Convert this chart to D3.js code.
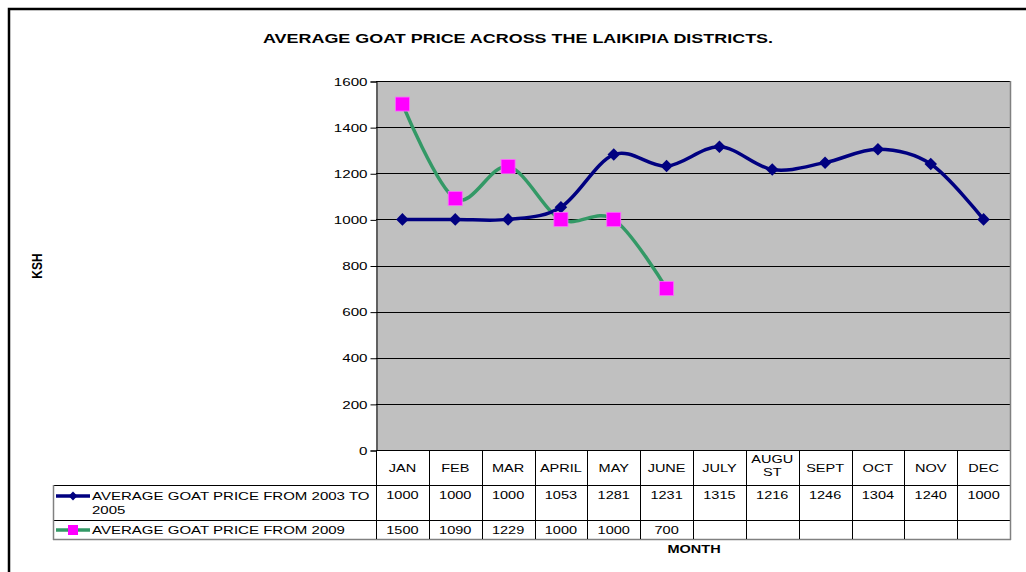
<!DOCTYPE html>
<html>
<head>
<meta charset="utf-8">
<script src="https://cdn.jsdelivr.net/npm/d3@7"></script>
<style>
  body { margin: 0; background: #fff; }
  text { font-family: "Liberation Sans", Arial, sans-serif; }
</style>
</head>
<body>
<div id="chart"></div>
<script>
// Chart data
const months = ["JAN", "FEB", "MAR", "APRIL", "MAY", "JUNE", "JULY", "AUGUST", "SEPT", "OCT", "NOV", "DEC"];
const monthLabels = [["JAN"], ["FEB"], ["MAR"], ["APRIL"], ["MAY"], ["JUNE"], ["JULY"], ["AUGU", "ST"], ["SEPT"], ["OCT"], ["NOV"], ["DEC"]];
const price2003to2005 = [1000, 1000, 1000, 1053, 1281, 1231, 1315, 1216, 1246, 1304, 1240, 1000];
const price2009 = [1500, 1090, 1229, 1000, 1000, 700];
const seriesNames = [["AVERAGE GOAT PRICE FROM 2003 TO", "2005"], ["AVERAGE GOAT PRICE FROM 2009"]];
const yTicks = [0, 200, 400, 600, 800, 1000, 1200, 1400, 1600];

const W = 1026, H = 572;
const plot = { left: 376, right: 1010, top: 81, bottom: 450 };
// the original picture is stretched sideways, so text is too
const SX = 1.32;

const svg = d3.select("#chart").append("svg")
  .attr("width", W)
  .attr("height", H);

// place a text at (x, y) with the sideways stretch
function placeText(sel, x, y) {
  return sel.attr("x", 0).attr("y", 0)
    .attr("transform", `translate(${x},${y}) scale(${SX},1)`);
}

// outer frame (runs off the right and bottom edges)
svg.append("path")
  .attr("d", `M9,${H + 5} V9 H${W + 5}`)
  .attr("fill", "none")
  .attr("stroke", "#000")
  .attr("stroke-width", 2.5);

// title
placeText(svg.append("text"), 518, 43)
  .attr("text-anchor", "middle")
  .attr("font-size", 13.6).attr("font-weight", "bold")
  .text("AVERAGE GOAT PRICE ACROSS THE LAIKIPIA DISTRICTS.");

// scales
const x = d3.scaleBand().domain(months).range([plot.left, plot.right]);
const y = d3.scaleLinear().domain([0, 1600]).range([plot.bottom, plot.top]);
const cx = m => x(m) + x.bandwidth() / 2;

// plot area
svg.append("rect")
  .attr("x", plot.left).attr("y", plot.top)
  .attr("width", plot.right - plot.left).attr("height", plot.bottom - plot.top)
  .attr("fill", "#c0c0c0");

// gridlines
svg.append("g").selectAll("line")
  .data(yTicks.filter(d => d > 0))
  .join("line")
  .attr("x1", plot.left).attr("x2", plot.right)
  .attr("y1", d => Math.round(y(d)) + 0.5).attr("y2", d => Math.round(y(d)) + 0.5)
  .attr("stroke", "#000").attr("stroke-width", 1);

// right plot border
svg.append("line")
  .attr("x1", plot.right + 0.5).attr("x2", plot.right + 0.5)
  .attr("y1", plot.top).attr("y2", plot.bottom)
  .attr("stroke", "#808080").attr("stroke-width", 1.5);

// y axis
const yAxis = svg.append("g")
  .attr("transform", `translate(${plot.left + 0.5},0.5)`)
  .call(d3.axisLeft(y).tickValues(yTicks).tickSize(6).tickPadding(4).tickFormat(d3.format("d")));
yAxis.select(".domain").attr("stroke", "#000");
yAxis.selectAll("line").attr("stroke", "#000");
yAxis.selectAll("text")
  .attr("font-size", 11.5)
  .attr("font-family", "Liberation Sans, Arial, sans-serif")
  .attr("fill", "#000")
  .attr("x", -9 / SX)
  .attr("transform", `scale(${SX},1)`);

// axis title
svg.append("text")
  .attr("transform", "translate(42,266) scale(1.2,1) rotate(-90)")
  .attr("text-anchor", "middle")
  .attr("font-size", 12).attr("font-weight", "bold")
  .text("KSH");

// data table
const rows = { month: [450, 485], s1: [485, 520], s2: [520, 539] };
const legendLeft = 53;
const table = svg.append("g").attr("fill", "none").attr("stroke", "#000").attr("stroke-width", 1);

// horizontal lines
table.append("line").attr("x1", plot.left).attr("x2", plot.right).attr("y1", rows.month[0] + 0.5).attr("y2", rows.month[0] + 0.5);
[rows.s1[0], rows.s2[0]].forEach(yy => {
  table.append("line").attr("x1", legendLeft).attr("x2", plot.right).attr("y1", yy + 0.5).attr("y2", yy + 0.5);
});
table.append("line").attr("x1", legendLeft).attr("x2", plot.right + 1)
  .attr("y1", rows.s2[1] + 0.5).attr("y2", rows.s2[1] + 0.5).attr("stroke", "#808080").attr("stroke-width", 1.5);
// vertical lines
months.forEach(m => {
  table.append("line").attr("x1", Math.round(x(m)) + 0.5).attr("x2", Math.round(x(m)) + 0.5)
    .attr("y1", rows.month[0]).attr("y2", rows.s2[1]);
});
table.append("line").attr("x1", plot.right + 0.5).attr("x2", plot.right + 0.5)
  .attr("y1", rows.month[0]).attr("y2", rows.s2[1] + 1).attr("stroke", "#808080").attr("stroke-width", 1.5);
table.append("line").attr("x1", legendLeft + 0.5).attr("x2", legendLeft + 0.5)
  .attr("y1", rows.s1[0]).attr("y2", rows.s2[1] + 1).attr("stroke", "#808080").attr("stroke-width", 1.5);

// month labels
svg.append("g").selectAll("text")
  .data(months)
  .join("text")
  .each(function (d, i) {
    const t = placeText(d3.select(this), cx(d), monthLabels[i].length > 1 ? 463 : 472)
      .attr("text-anchor", "middle")
      .attr("font-size", 11);
    t.selectAll("tspan")
      .data(monthLabels[i])
      .join("tspan")
      .attr("x", 0)
      .attr("dy", (s, j) => j === 0 ? 0 : 13)
      .text(s => s);
  });

// values in table
const tableRows = [
  { values: price2003to2005, y: 499 },
  { values: price2009, y: 534 }
];
tableRows.forEach(r => {
  svg.append("g").selectAll("text")
    .data(r.values)
    .join("text")
    .each(function (d, i) { placeText(d3.select(this), cx(months[i]), r.y); })
    .attr("text-anchor", "middle")
    .attr("font-size", 11)
    .text(d => d);
});

// series lines
const line = d3.line()
  .x((d, i) => cx(months[i]))
  .y(d => y(d))
  .curve(d3.curveCatmullRom.alpha(0));

const diamond = d3.symbol().type(d3.symbolDiamond2).size(100);

svg.append("path")
  .datum(price2009)
  .attr("d", line)
  .attr("fill", "none")
  .attr("stroke", "#339966")
  .attr("stroke-width", 3.5);

svg.append("path")
  .datum(price2003to2005)
  .attr("d", line)
  .attr("fill", "none")
  .attr("stroke", "#000080")
  .attr("stroke-width", 3.5);

svg.append("g").selectAll("path")
  .data(price2003to2005)
  .join("path")
  .attr("transform", (d, i) => `translate(${cx(months[i])},${y(d)})`)
  .attr("d", diamond)
  .attr("fill", "#000080");

svg.append("g").selectAll("rect")
  .data(price2009)
  .join("rect")
  .attr("x", (d, i) => cx(months[i]) - 7)
  .attr("y", d => y(d) - 7)
  .attr("width", 14).attr("height", 14)
  .attr("fill", "#ff00ff")
  .attr("stroke", "#ff66ff").attr("stroke-width", 0.8);

// legend keys in table
const legendRows = [
  { y: 496, color: "#000080", marker: "diamond", name: seriesNames[0] },
  { y: 530, color: "#339966", marker: "square", name: seriesNames[1] }
];
legendRows.forEach(r => {
  svg.append("line")
    .attr("x1", 56).attr("x2", 90)
    .attr("y1", r.y).attr("y2", r.y)
    .attr("stroke", r.color).attr("stroke-width", 3.5);
  if (r.marker === "diamond") {
    svg.append("path")
      .attr("transform", `translate(73,${r.y})`)
      .attr("d", d3.symbol().type(d3.symbolDiamond2).size(50))
      .attr("fill", "#000080");
  } else {
    svg.append("rect")
      .attr("x", 68).attr("y", r.y - 5)
      .attr("width", 10).attr("height", 10)
      .attr("fill", "#ff00ff");
  }
  const t = placeText(svg.append("text"), 92, r.y + 4)
    .attr("font-size", 11.4);
  t.selectAll("tspan")
    .data(r.name)
    .join("tspan")
    .attr("x", 0)
    .attr("dy", (d, j) => j === 0 ? 0 : 14)
    .text(d => d);
});

// x axis title
placeText(svg.append("text"), 694, 553)
  .attr("text-anchor", "middle")
  .attr("font-size", 11).attr("font-weight", "bold")
  .text("MONTH");
</script>
</body>
</html>
